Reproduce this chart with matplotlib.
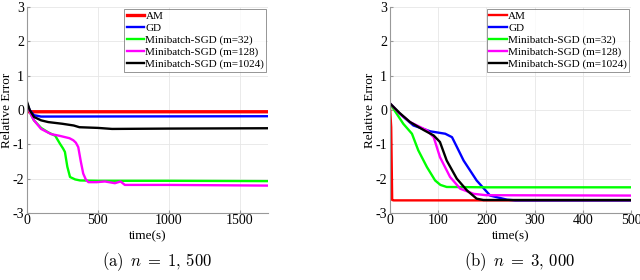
import numpy as np
import matplotlib
matplotlib.use('Agg')
import matplotlib.pyplot as plt

plt.rcParams['font.family'] = ['Liberation Serif', 'DejaVu Serif']
plt.rcParams['mathtext.fontset'] = 'cm'
plt.rcParams['axes.unicode_minus'] = False

labels = ['AM', 'GD', 'Minibatch-SGD (m=32)', 'Minibatch-SGD (m=128)', 'Minibatch-SGD (m=1024)']
colors = ['#ff0000', '#0000ff', '#00ff00', '#ff00ff', '#000000']

# (a) n = 1,500
a_am_t = [0, 10, 1700]
a_am_y = [0.0, -0.05, -0.05]
a_gd_t = [0, 20, 50, 100, 1700]
a_gd_y = [0.2, 0.0, -0.15, -0.19, -0.18]
a_m32_t = [0, 25, 50, 100, 150, 200, 233, 255, 268, 285, 304, 340, 375, 500, 1000, 1700]
a_m32_y = [0.2, -0.1, -0.3, -0.52, -0.65, -0.75, -0.98, -1.12, -1.22, -1.65, -1.95, -2.02, -2.05, -2.06, -2.06, -2.07]
a_m128_t = [0, 25, 50, 100, 170, 230, 300, 327, 345, 362, 380, 397, 415, 433, 492, 550, 620, 660, 690, 1000, 1700]
a_m128_y = [0.2, -0.1, -0.3, -0.55, -0.7, -0.75, -0.82, -0.88, -0.95, -1.08, -1.5, -1.85, -2.02, -2.1, -2.1, -2.08, -2.13, -2.08, -2.18, -2.18, -2.2]
a_m1024_t = [0, 20, 50, 100, 150, 250, 330, 370, 500, 600, 1000, 1700]
a_m1024_y = [0.25, 0.0, -0.2, -0.3, -0.35, -0.4, -0.45, -0.5, -0.52, -0.55, -0.54, -0.53]

# (b) n = 3,000
b_am_t = [0, 3, 5, 8, 500]
b_am_y = [0.2, -0.5, -2.62, -2.63, -2.63]
b_gd_t = [0, 20, 49, 84, 115, 129, 140, 153, 180, 208, 243, 260, 500]
b_gd_y = [0.2, -0.1, -0.45, -0.62, -0.69, -0.79, -1.1, -1.47, -2.05, -2.49, -2.61, -2.63, -2.63]
b_m32_t = [0, 28, 46, 59, 77, 94, 105, 118, 200, 500]
b_m32_y = [0.2, -0.4, -0.69, -1.17, -1.66, -2.05, -2.18, -2.24, -2.25, -2.25]
b_m128_t = [0, 20, 42, 77, 91, 104, 125, 146, 174, 200, 500]
b_m128_y = [0.2, -0.1, -0.35, -0.59, -0.79, -1.37, -1.95, -2.29, -2.44, -2.48, -2.49]
b_m1024_t = [0, 20, 42, 70, 91, 104, 118, 139, 160, 180, 194, 500]
b_m1024_y = [0.2, -0.08, -0.35, -0.58, -0.74, -0.93, -1.47, -2.0, -2.34, -2.58, -2.62, -2.62]

panels = [
    ([(a_am_t, a_am_y), (a_gd_t, a_gd_y), (a_m32_t, a_m32_y), (a_m128_t, a_m128_y), (a_m1024_t, a_m1024_y)],
     1700, [0, 500, 1000, 1500], r'$\mathrm{(a)}\ \,n \;=\; 1,\,500$', 0.042),
    ([(b_am_t, b_am_y), (b_gd_t, b_gd_y), (b_m32_t, b_m32_y), (b_m128_t, b_m128_y), (b_m1024_t, b_m1024_y)],
     500, [0, 100, 200, 300, 400, 500], r'$\mathrm{(b)}\ \,n \;=\; 3,\,000$', 0.609),
]

fig = plt.figure(figsize=(6.4, 2.8), dpi=100)

for series, xmax, xticks, caption, left in panels:
    ax = fig.add_axes([left, 0.239, 0.377, 0.736])
    for (t, y), lab, c in zip(series, labels, colors):
        lw = 2.4 if lab == 'AM' and xmax == 1700 else 1.7
        ax.plot(t, y, color=c, lw=lw, label=lab)
    ax.set_xlim(0, xmax)
    ax.set_ylim(-3, 3)
    ax.set_xticks(xticks)
    ax.set_yticks([-3, -2, -1, 0, 1, 2, 3])
    ax.grid(True, color='#e6e6e6', lw=0.6)
    ax.set_axisbelow(True)
    for s in ['top', 'right']:
        ax.spines[s].set_visible(False)
    for s in ['left', 'bottom']:
        ax.spines[s].set_color('#999999')
        ax.spines[s].set_linewidth(0.8)
    ax.tick_params(labelsize=10, length=2, color='#999999', pad=1, direction='in')
    ax.tick_params(axis='y', pad=2)
    ax.set_xlabel('time(s)', fontsize=9.5, labelpad=2)
    ax.set_ylabel('Relative Error', fontsize=9.5, va='center', ha='center')
    ax.yaxis.set_label_coords(-0.083, 0.5)
    leg = ax.legend(loc='upper right', fontsize=8, handlelength=1.6, handletextpad=0.1,
                    borderpad=0.2, labelspacing=0.2, frameon=True, fancybox=False,
                    borderaxespad=0.15)
    leg.get_frame().set_edgecolor('#666666')
    leg.get_frame().set_linewidth(0.6)
    fig.text(left + 0.377 / 2 + 0.015, 0.065, caption, ha='center', va='center', fontsize=12)

fig.savefig('out.png', dpi=100)
